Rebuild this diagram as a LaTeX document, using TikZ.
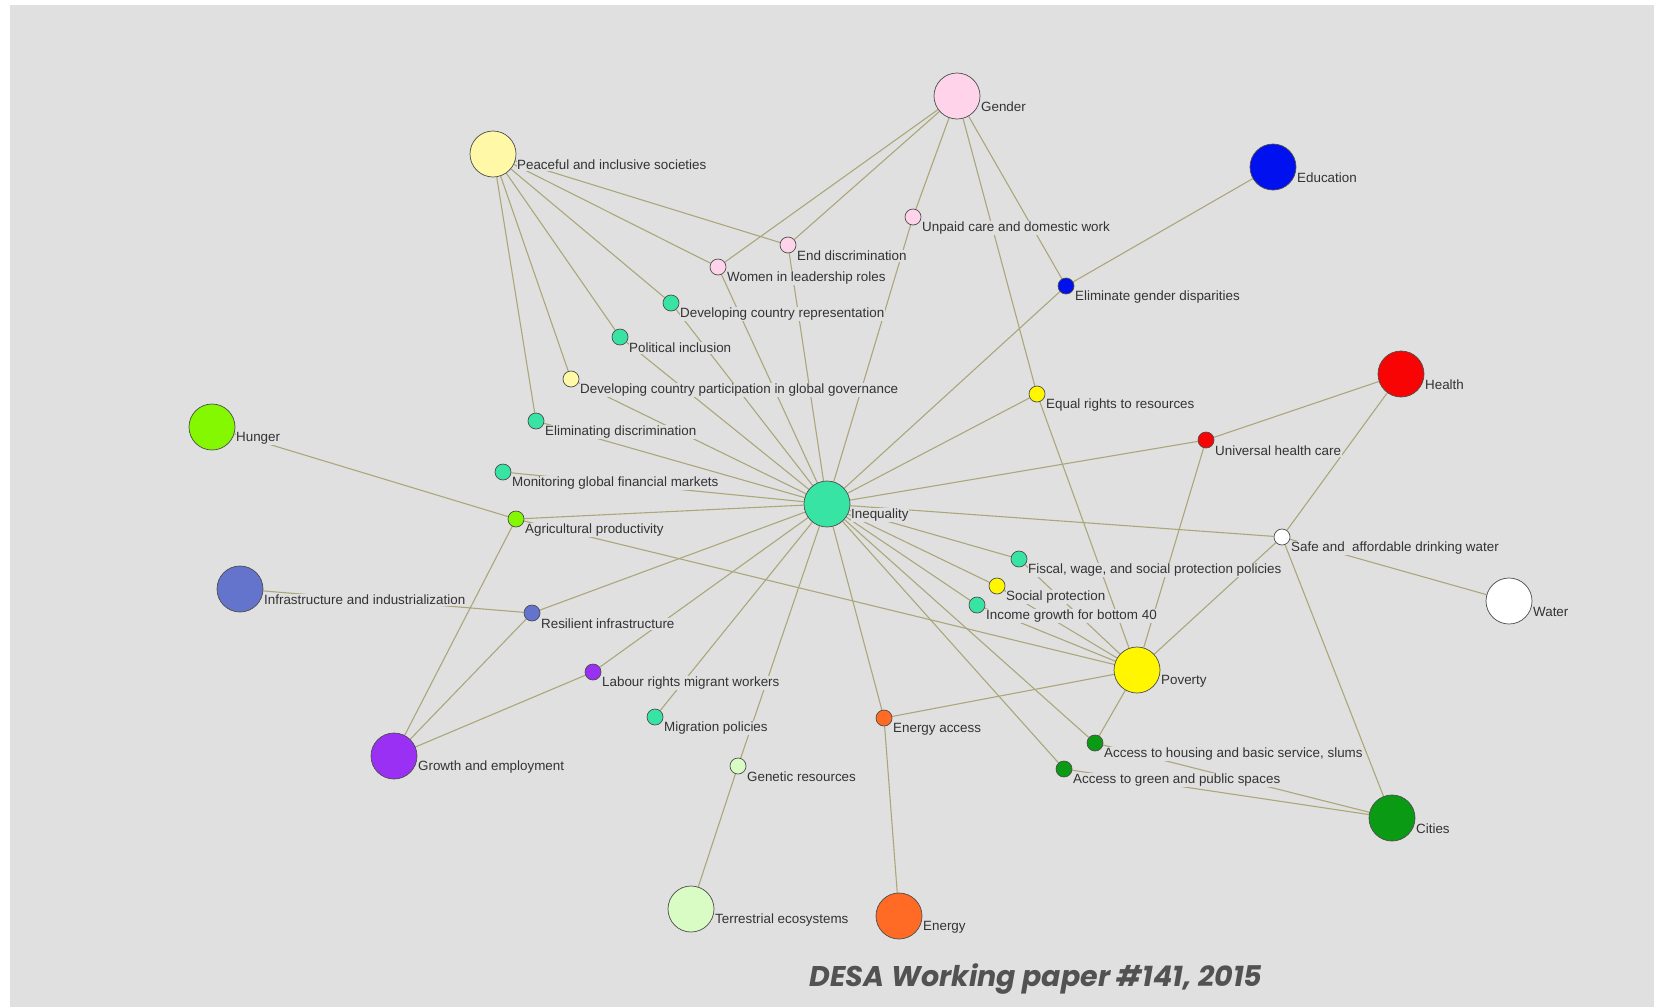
\documentclass[tikz,border=0pt]{standalone}
\usepackage{fontspec}
\setmainfont{Liberation Sans}
\newfontfamily\footfont{Poppins}
\usetikzlibrary{backgrounds}

\definecolor{bggray}{HTML}{E0E0E0}
\definecolor{linkcol}{HTML}{ABA77A}
\definecolor{txtgray}{HTML}{333333}
\definecolor{cineq}{HTML}{38E4A4}
\definecolor{cgender}{HTML}{FFD4EA}
\definecolor{cpeace}{HTML}{FFF8A6}
\definecolor{cedu}{HTML}{0010EE}
\definecolor{chunger}{HTML}{84F800}
\definecolor{cinfra}{HTML}{6474CC}
\definecolor{cgrowth}{HTML}{9A30F4}
\definecolor{chealth}{HTML}{F80404}
\definecolor{cpov}{HTML}{FFF600}
\definecolor{ccities}{HTML}{0A9A14}
\definecolor{cenergy}{HTML}{FF6A24}
\definecolor{cterr}{HTML}{D8FCC4}

\begin{document}
\begin{tikzpicture}[x=1pt, y=-1pt,
  big/.style={circle, draw=black!70, line width=0.7pt, minimum size=46pt, inner sep=0pt},
  small/.style={circle, draw=black!70, line width=0.7pt, minimum size=16pt, inner sep=0pt},
  lbl/.style={anchor=west, yshift=-11pt, inner sep=0.6pt, fill=bggray, text=txtgray, font=\fontsize{13.4}{15}\selectfont},
  lab/.style={label={[lbl]east:#1}},
  link/.style={draw=linkcol, line width=1.1pt}]
\useasboundingbox (0,0) rectangle (1654,1007);

\node[big, fill=cgender, lab=Gender] (gen) at (957,96) {};
\node[big, fill=cpeace, lab=Peaceful and inclusive societies] (peace) at (493,154) {};
\node[big, fill=cedu, lab=Education] (edu) at (1273,167) {};
\node[small, fill=cgender, lab=Unpaid care and domestic work] (unpaid) at (913,217) {};
\node[small, fill=cgender, lab=End discrimination] (enddisc) at (788,245) {};
\node[small, fill=cgender, lab=Women in leadership roles] (women) at (718,267) {};
\node[small, fill=cedu, lab=Eliminate gender disparities] (elimgen) at (1066,286) {};
\node[small, fill=cineq, lab=Developing country representation] (devrep) at (671,303) {};
\node[small, fill=cineq, lab=Political inclusion] (polinc) at (620,337) {};
\node[small, fill=cpeace, lab=Developing country participation in global governance] (devpart) at (571,379) {};
\node[small, fill=cineq, lab=Eliminating discrimination] (elimdisc) at (536,421) {};
\node[big, fill=chunger, lab=Hunger] (hunger) at (212,427) {};
\node[small, fill=cineq, lab=Monitoring global financial markets] (monit) at (503,472) {};
\node[small, fill=chunger, lab=Agricultural productivity] (agri) at (516,519) {};
\node[big, fill=cineq, lab=Inequality] (ineq) at (827,504) {};
\node[small, fill=cpov, lab=Equal rights to resources] (equal) at (1037,394) {};
\node[small, fill=chealth, lab=Universal health care] (uhc) at (1206,440) {};
\node[big, fill=chealth, lab=Health] (health) at (1401,374) {};
\node[small, fill=white, lab={Safe and \ affordable drinking water}] (safe) at (1282,537) {};
\node[big, fill=white, lab=Water] (water) at (1509,601) {};
\node[small, fill=cineq, lab={Fiscal, wage, and social protection policies}] (fiscal) at (1019,559) {};
\node[small, fill=cpov, lab=Social protection] (socprot) at (997,586) {};
\node[small, fill=cineq, lab=Income growth for bottom 40] (income) at (977,605) {};
\node[big, fill=cpov, lab=Poverty] (pov) at (1137,670) {};
\node[big, fill=cinfra, lab=Infrastructure and industrialization] (infra) at (240,589) {};
\node[small, fill=cinfra, lab=Resilient infrastructure] (resil) at (532,613) {};
\node[small, fill=cgrowth, lab=Labour rights migrant workers] (labour) at (593,672) {};
\node[small, fill=cineq, lab=Migration policies] (migr) at (655,717) {};
\node[big, fill=cgrowth, lab=Growth and employment] (growth) at (394,756) {};
\node[small, fill=cenergy, lab=Energy access] (enacc) at (884,718) {};
\node[small, fill=cterr, lab=Genetic resources] (genet) at (738,766) {};
\node[small, fill=ccities, lab={Access to housing and basic service, slums}] (housing) at (1095,743) {};
\node[small, fill=ccities, lab=Access to green and public spaces] (green) at (1064,769) {};
\node[big, fill=ccities, lab=Cities] (cities) at (1392,818) {};
\node[big, fill=cterr, lab=Terrestrial ecosystems] (terr) at (691,909) {};
\node[big, fill=cenergy, lab=Energy] (energy) at (899,916) {};

\node[font=\footfont\bfseries\itshape\fontsize{28.5}{34}\selectfont, text=black!68] (src) at (1036,979) {DESA Working paper \#141, 2015};

\begin{scope}[on background layer]
\fill[white] (0,0) rectangle (1654,1007);
\fill[bggray] (10,5) rectangle (1654,1007);
\draw[link] (gen) -- (women) (gen) -- (enddisc) (gen) -- (unpaid) (gen) -- (equal) (gen) -- (elimgen);
\draw[link] (peace) -- (enddisc) (peace) -- (women) (peace) -- (devrep) (peace) -- (polinc) (peace) -- (devpart) (peace) -- (elimdisc);
\draw[link] (edu) -- (elimgen);
\draw[link] (ineq) -- (unpaid) (ineq) -- (enddisc) (ineq) -- (women) (ineq) -- (devrep) (ineq) -- (polinc) (ineq) -- (devpart) (ineq) -- (elimdisc) (ineq) -- (monit);
\draw[link] (ineq) -- (agri) (ineq) -- (resil) (ineq) -- (labour) (ineq) -- (migr) (ineq) -- (genet) (ineq) -- (enacc) (ineq) -- (green) (ineq) -- (housing);
\draw[link] (ineq) -- (income) (ineq) -- (socprot) (ineq) -- (fiscal) (ineq) -- (safe) (ineq) -- (uhc) (ineq) -- (equal) (ineq) -- (elimgen);
\draw[link] (pov) -- (equal) (pov) -- (uhc) (pov) -- (safe) (pov) -- (fiscal) (pov) -- (socprot) (pov) -- (income) (pov) -- (agri) (pov) -- (enacc) (pov) -- (housing);
\draw[link] (health) -- (uhc) (health) -- (safe) (water) -- (safe);
\draw[link] (cities) -- (safe) (cities) -- (housing) (cities) -- (green);
\draw[link] (hunger) -- (agri) (growth) -- (agri) (growth) -- (resil) (growth) -- (labour) (infra) -- (resil);
\draw[link] (genet) -- (terr) (enacc) -- (energy);
\end{scope}
\end{tikzpicture}
\end{document}
